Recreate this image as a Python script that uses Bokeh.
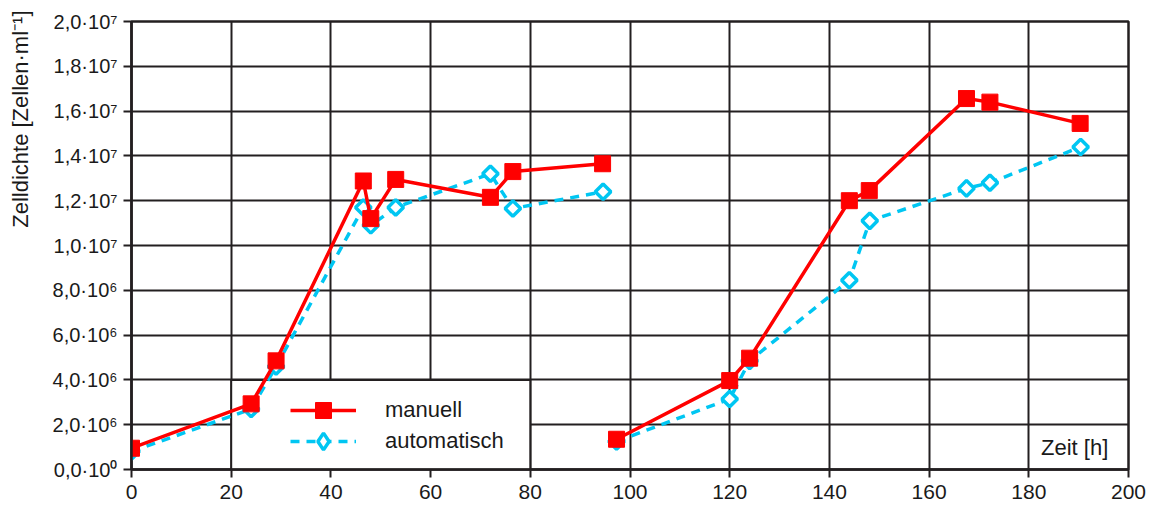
import math
from bokeh.plotting import figure
from bokeh.models import (Range1d, FixedTicker, Legend, LegendItem, Label, Title)
from bokeh.embed import file_html
from bokeh.resources import INLINE

nan = float("nan")

# --- data ---------------------------------------------------------------
zeit_manuell = [0, 24, 29, 46.5, 48, 53, 72, 76.5, 94.5, nan,
                97.3, 120, 124, 144, 148, 167.5, 172.2, 190.3]
zellen_manuell = [0.95e6, 2.93e6, 4.85e6, 12.88e6, 11.2e6, 12.95e6, 12.15e6, 13.3e6, 13.65e6, nan,
                  1.35e6, 3.97e6, 4.97e6, 12.0e6, 12.45e6, 16.56e6, 16.4e6, 15.45e6]

zeit_auto = [0, 24, 29, 46.5, 48, 53, 72, 76.5, 94.6, nan,
             97.3, 120, 124, 144, 148.1, 167.5, 172.2, 190.4]
zellen_auto = [0.8e6, 2.7e6, 4.6e6, 11.7e6, 10.9e6, 11.7e6, 13.2e6, 11.65e6, 12.4e6, nan,
               1.25e6, 3.15e6, 4.85e6, 8.45e6, 11.1e6, 12.55e6, 12.8e6, 14.4e6]

x_ticks = [0, 20, 40, 60, 80, 100, 120, 140, 160, 180, 200]
y_ticks = [0, 2000000, 4000000, 6000000, 8000000, 10000000,
           12000000, 14000000, 16000000, 18000000, 20000000]
y_tick_labels = ["0,0·10⁰", "2,0·10⁶", "4,0·10⁶", "6,0·10⁶", "8,0·10⁶", "1,0·10⁷",
                 "1,2·10⁷", "1,4·10⁷", "1,6·10⁷", "1,8·10⁷", "2,0·10⁷"]

series_names = ["manuell", "automatisch"]
x_label = "Zeit [h]"
y_label = "Zelldichte [Zellen·ml⁻¹]"

# --- style ----------------------------------------------------------------
FONT = "Liberation Sans"
DARK = "#231f20"
TEXT = "#1a1a1a"
RED = "#ff0000"
CYAN = "#00c6f2"

p = figure(width=1151, height=515, output_backend="svg", toolbar_location=None,
           x_range=Range1d(0, 200), y_range=Range1d(0, 20000000),
           min_border_left=131, min_border_right=23, min_border_top=21,
           min_border_bottom=46)

p.background_fill_color = "white"
p.border_fill_color = "white"
p.outline_line_color = DARK
p.outline_line_width = 2.5

for ax in (p.xaxis[0], p.yaxis[0]):
    ax.axis_line_color = DARK
    ax.axis_line_width = 2.5
    ax.major_tick_line_color = DARK
    ax.major_tick_line_width = 2
    ax.major_tick_out = 8
    ax.major_tick_in = 0
    ax.minor_tick_line_color = None
    ax.major_label_text_font = FONT
    ax.major_label_text_font_size = "21px"
    ax.major_label_text_color = TEXT

p.xaxis.ticker = FixedTicker(ticks=x_ticks)
p.yaxis.ticker = FixedTicker(ticks=y_ticks)
p.xaxis.major_label_standoff = 7
p.yaxis.major_label_standoff = 6
p.yaxis.major_label_text_font_size = "20px"
p.yaxis.major_label_overrides = {t: l for t, l in zip(y_ticks, y_tick_labels)}
# blank, tiny axis label used only as a spacer between tick labels and the title
p.yaxis.axis_label = " "
p.yaxis.axis_label_text_font_size = "1px"
p.yaxis.axis_label_standoff = 8

p.xgrid.ticker = FixedTicker(ticks=x_ticks)
p.ygrid.ticker = FixedTicker(ticks=y_ticks)
for g in (p.xgrid[0], p.ygrid[0]):
    g.grid_line_color = DARK
    g.grid_line_width = 2
    g.grid_line_alpha = 1.0

# legend box (white cell block covering grid)
p.quad(left=[20], right=[80], bottom=[0], top=[4000000],
       fill_color="white", line_color=DARK, line_width=2)

# series
auto_line = p.line(zeit_auto, zellen_auto, line_color=CYAN, line_width=3.5,
                   line_dash="9 7")
auto_pts = p.scatter(zeit_auto, zellen_auto, marker="square", size=11,
                     angle=math.pi / 4, fill_color="white", line_color=CYAN,
                     line_width=3.5)
man_line = p.line(zeit_manuell, zellen_manuell, line_color=RED, line_width=3.5)
man_pts = p.scatter(zeit_manuell, zellen_manuell, marker="square", size=16,
                    fill_color=RED, line_color=RED, line_width=1)

# legend-only diamond (rotated squares are not rotated inside legends)
auto_legend_marker = p.scatter(zeit_auto, zellen_auto, marker="diamond",
                               fill_color="white", line_color=CYAN,
                               line_width=3.5, visible=False)

common = dict(glyph_width=66, label_standoff=29, padding=0, margin=0,
              background_fill_alpha=0, border_line_alpha=0, label_text_font=FONT,
              label_text_font_size="22px", label_text_color=TEXT)
legend1 = Legend(items=[LegendItem(label=series_names[0], renderers=[man_line, man_pts])],
                 location=(159, 39), glyph_height=40, label_height=40, **common)
legend2 = Legend(items=[LegendItem(label=series_names[1],
                                   renderers=[auto_line, auto_legend_marker])],
                 location=(159, 7), glyph_height=42, label_height=42, **common)
p.add_layout(legend1, "center")
p.add_layout(legend2, "center")

p.add_layout(Label(x=189.2, y=1000000, text=x_label, text_align="center",
                   text_baseline="middle", text_font=FONT,
                   text_font_size="22px", text_color=TEXT))

# y axis title, aligned to the top end of the axis as in the original
p.add_layout(Title(text=y_label, align="right", offset=-11, standoff=10,
                   text_font=FONT, text_font_size="22px",
                   text_font_style="normal", text_color=TEXT), "left")

open("out.html", "w").write(file_html(p, INLINE))
